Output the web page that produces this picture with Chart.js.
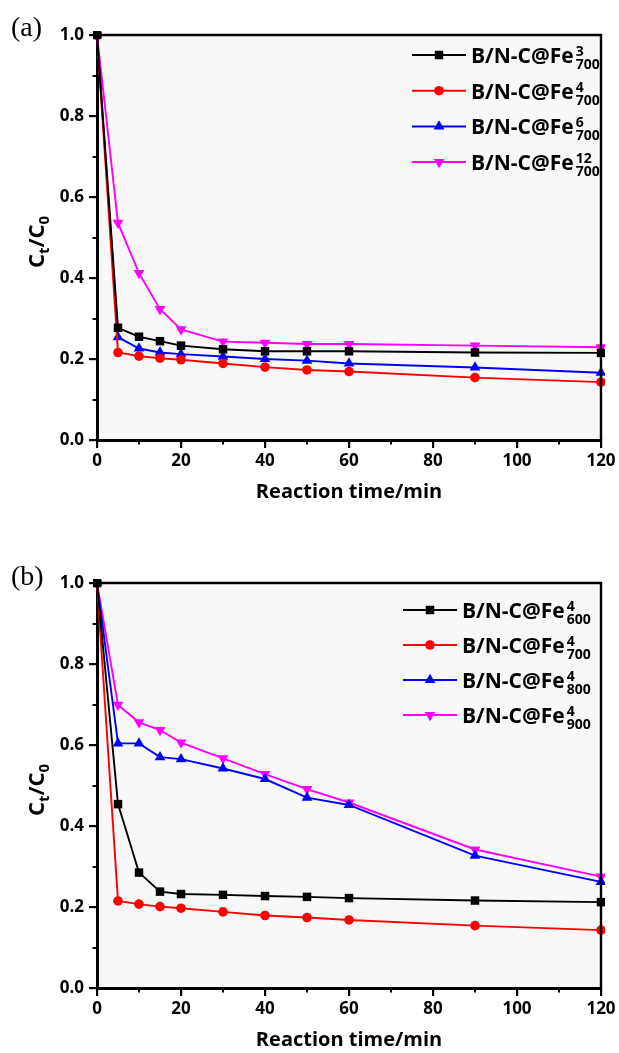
<!DOCTYPE html>
<html><head><meta charset="utf-8">
<script src="https://cdn.jsdelivr.net/npm/chart.js@4.4.1/dist/chart.umd.min.js"></script>
<style>
html,body{margin:0;padding:0;background:#fff;}
#wrap{position:relative;width:619px;height:1053px;overflow:hidden;}
canvas{position:absolute;left:0;}
</style></head><body>
<div id="wrap">
<canvas id="ca" width="619" height="530" style="top:0"></canvas>
<canvas id="cb" width="619" height="523" style="top:530px"></canvas>
</div>
<script>
// ---- data ----
const time = [0, 5, 10, 15, 20, 30, 40, 50, 60, 90, 120];
const xTicks = [0, 20, 40, 60, 80, 100, 120];
const yTicks = [0.0, 0.2, 0.4, 0.6, 0.8, 1.0];

// panel (a): B/N-C@Fe^n_700
const a_Fe3_700  = [1.0, 0.277, 0.255, 0.244, 0.233, 0.224, 0.219, 0.219, 0.219, 0.216, 0.215];
const a_Fe4_700  = [1.0, 0.216, 0.207, 0.202, 0.198, 0.189, 0.180, 0.173, 0.169, 0.154, 0.143];
const a_Fe6_700  = [1.0, 0.254, 0.226, 0.216, 0.212, 0.206, 0.200, 0.196, 0.189, 0.179, 0.166];
const a_Fe12_700 = [1.0, 0.536, 0.412, 0.323, 0.273, 0.243, 0.240, 0.237, 0.237, 0.233, 0.229];
const a_sup = ['3', '4', '6', '12'];
const a_sub = ['700', '700', '700', '700'];

// panel (b): B/N-C@Fe^4_T
const b_Fe4_600 = [1.0, 0.454, 0.285, 0.238, 0.232, 0.230, 0.227, 0.225, 0.222, 0.216, 0.212];
const b_Fe4_700 = [1.0, 0.215, 0.207, 0.201, 0.197, 0.188, 0.179, 0.174, 0.168, 0.154, 0.143];
const b_Fe4_800 = [1.0, 0.604, 0.604, 0.570, 0.565, 0.542, 0.516, 0.470, 0.452, 0.327, 0.262];
const b_Fe4_900 = [1.0, 0.699, 0.656, 0.637, 0.606, 0.567, 0.528, 0.491, 0.458, 0.342, 0.275];
const b_sup = ['4', '4', '4', '4'];
const b_sub = ['600', '700', '800', '900'];

const baseName = 'B/N-C@Fe';
const xTitle = 'Reaction time/min';

// ---- styles ----
const colors = ['#000000', '#ff0000', '#0000ff', '#ff00ff'];
const styles = [
  {pointStyle: 'rect', radius: 6, rotation: 0},
  {pointStyle: 'circle', radius: 4.8, rotation: 0},
  {pointStyle: 'triangle', radius: 6.2, rotation: 0},
  {pointStyle: 'triangle', radius: 6.2, rotation: 180}
];
const FONT = '"Open Sans", "DejaVu Sans", sans-serif';

function ds(values, i, sup, sub) {
  return {
    label: baseName + sup + ' ' + sub,
    sup: sup, sub: sub,
    data: time.map((t, k) => ({x: t, y: values[k]})),
    borderColor: colors[i], backgroundColor: colors[i],
    borderWidth: 1.9,
    pointStyle: styles[i].pointStyle,
    pointRadius: styles[i].radius,
    pointRotation: styles[i].rotation,
    pointBorderWidth: 0,
    tension: 0, clip: 4
  };
}

const decoPlugin = {
  id: 'deco',
  beforeDraw(chart) {
    const {ctx, chartArea: a} = chart;
    ctx.save();
    ctx.fillStyle = '#f8f8f8';
    ctx.fillRect(a.left, a.top, a.right - a.left, a.bottom - a.top);
    ctx.restore();
  },
  afterDraw(chart, args, o) {
    const {ctx, chartArea: a} = chart;
    const xs = chart.scales.x, ys = chart.scales.y;
    ctx.save();
    // frame top/right
    ctx.strokeStyle = '#000';
    ctx.lineWidth = 2.4;
    ctx.beginPath();
    ctx.moveTo(a.left, a.top); ctx.lineTo(a.right, a.top); ctx.lineTo(a.right, a.bottom);
    ctx.stroke();
    // minor ticks
    ctx.lineWidth = 2;
    [10, 30, 50, 70, 90, 110].forEach(v => {
      const px = Math.round(xs.getPixelForValue(v));
      ctx.beginPath(); ctx.moveTo(px, a.bottom); ctx.lineTo(px, a.bottom + 4.5); ctx.stroke();
    });
    [0.1, 0.3, 0.5, 0.7, 0.9].forEach(v => {
      const py = Math.round(ys.getPixelForValue(v));
      ctx.beginPath(); ctx.moveTo(a.left, py); ctx.lineTo(a.left - 4.5, py); ctx.stroke();
    });
    // panel label
    ctx.fillStyle = '#000';
    ctx.font = '28px "Liberation Serif", "DejaVu Serif", serif';
    ctx.textBaseline = 'middle'; ctx.textAlign = 'left';
    ctx.fillText(o.panel, 11, o.panelY);
    // x title
    ctx.font = 'bold 20px ' + FONT;
    ctx.textAlign = 'center';
    ctx.fillText(xTitle, (a.left + a.right) / 2, o.titleY);
    // y title Ct/C0 rotated
    ctx.save();
    ctx.translate(37, o.yTitleY);
    ctx.rotate(-Math.PI / 2);
    const big = 'bold 22px ' + FONT, small = 'bold 15px ' + FONT;
    const parts = [['C', big, 0], ['t', small, 5], ['/C', big, 0], ['0', small, 5]];
    let total = 0;
    parts.forEach(p => { ctx.font = p[1]; total += ctx.measureText(p[0]).width; });
    let x = -total / 2;
    ctx.textAlign = 'left'; ctx.textBaseline = 'alphabetic';
    parts.forEach(p => { ctx.font = p[1]; ctx.fillText(p[0], x, 7 + p[2]); x += ctx.measureText(p[0]).width; });
    ctx.restore();
    // legend
    const L = o.legend;
    chart.data.datasets.forEach((d, i) => {
      const y = L.y0 + i * L.dy;
      ctx.strokeStyle = d.borderColor; ctx.lineWidth = 2;
      ctx.beginPath(); ctx.moveTo(L.x0, y); ctx.lineTo(L.x1, y); ctx.stroke();
      ctx.fillStyle = d.backgroundColor;
      Chart.helpers.drawPoint(ctx, {pointStyle: styles[i].pointStyle, radius: styles[i].radius, rotation: styles[i].rotation, borderWidth: 0}, (L.x0 + L.x1) / 2, y);
      ctx.fillStyle = '#000';
      ctx.textAlign = 'left'; ctx.textBaseline = 'alphabetic';
      ctx.font = 'bold 21px ' + FONT;
      ctx.fillText(baseName, L.tx, y + 8);
      const w = ctx.measureText(baseName).width;
      ctx.font = 'bold 14px ' + FONT;
      ctx.fillText(d.sup, L.tx + w + 2, y + 1);
      ctx.fillText(d.sub, L.tx + w + 2, y + 14);
    });
    ctx.restore();
  }
};

function makeChart(id, datasets, opt) {
  return new Chart(document.getElementById(id), {
    type: 'line',
    data: {datasets},
    plugins: [decoPlugin],
    options: {
      responsive: false, animation: false, devicePixelRatio: 1,
      layout: {padding: {top: opt.top, right: 18, left: 0, bottom: 0}},
      plugins: {legend: {display: false}, tooltip: {enabled: false}, deco: opt.deco},
      scales: {
        x: {
          type: 'linear', min: 0, max: 120,
          afterBuildTicks: s => { s.ticks = xTicks.map(v => ({value: v})); },
          afterFit: s => { s.height = opt.xh; },
          grid: {drawOnChartArea: false, color: '#000', lineWidth: 2.2, tickLength: 8},
          border: {display: true, color: '#000', width: 3},
          ticks: {color: '#000', padding: 3, maxRotation: 0, font: {family: FONT, size: 17, weight: 'bold'}}
        },
        y: {
          min: 0, max: 1,
          afterBuildTicks: s => { s.ticks = yTicks.map(v => ({value: v})); },
          afterFit: s => { s.width = 97; },
          grid: {drawOnChartArea: false, color: '#000', lineWidth: 2.2, tickLength: 8},
          border: {display: true, color: '#000', width: 3},
          ticks: {color: '#000', padding: 5, font: {family: FONT, size: 17, weight: 'bold'},
                  callback: v => Number(v).toFixed(1)}
        }
      }
    }
  });
}

makeChart('ca', [
  ds(a_Fe3_700, 0, a_sup[0], a_sub[0]),
  ds(a_Fe4_700, 1, a_sup[1], a_sub[1]),
  ds(a_Fe6_700, 2, a_sup[2], a_sub[2]),
  ds(a_Fe12_700, 3, a_sup[3], a_sub[3])
], {top: 35, xh: 90, deco: {panel: '(a)', panelY: 29, titleY: 492, yTitleY: 242,
    legend: {x0: 412, x1: 466, tx: 471, y0: 55, dy: 35.7}}});

makeChart('cb', [
  ds(b_Fe4_600, 0, b_sup[0], b_sub[0]),
  ds(b_Fe4_700, 1, b_sup[1], b_sub[1]),
  ds(b_Fe4_800, 2, b_sup[2], b_sub[2]),
  ds(b_Fe4_900, 3, b_sup[3], b_sub[3])
], {top: 53, xh: 65, deco: {panel: '(b)', panelY: 48, titleY: 510, yTitleY: 260,
    legend: {x0: 403, x1: 457, tx: 462, y0: 80, dy: 35}}});
</script>
</body></html>
